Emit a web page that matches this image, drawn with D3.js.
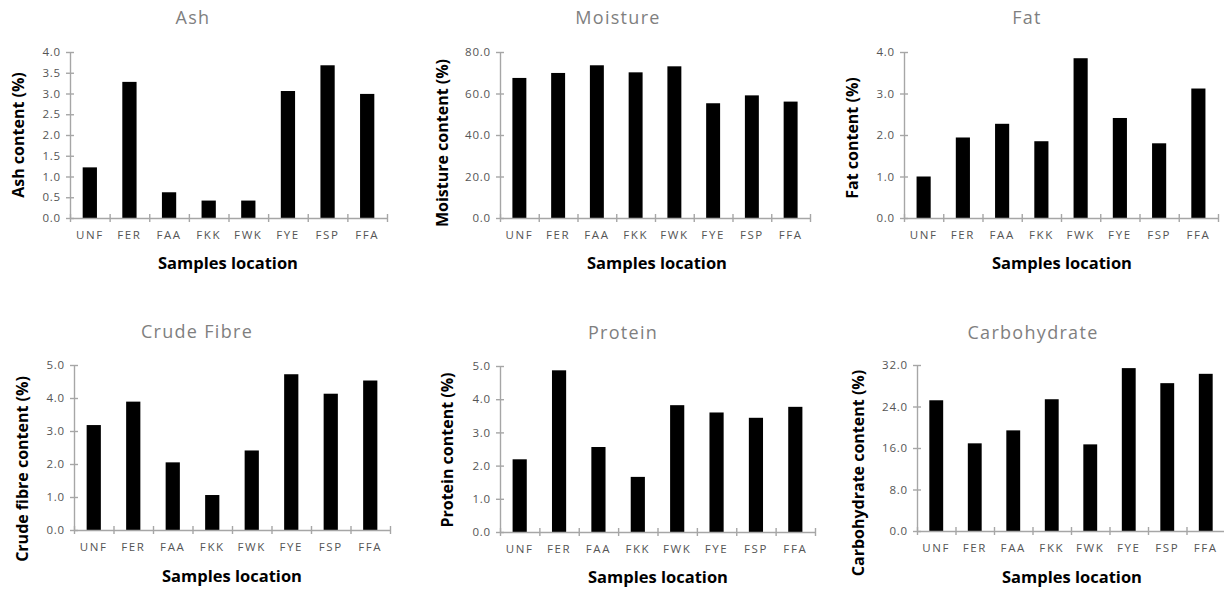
<!DOCTYPE html>
<html>
<head>
<meta charset="utf-8">
<script src="https://cdn.jsdelivr.net/npm/d3@7"></script>
<style>
  body { margin: 0; background: #fff; }
  svg { display: block; }
  text { font-family: "Open Sans", sans-serif; }
</style>
</head>
<body>
<div id="chart"></div>
<script>
const categories = ["UNF", "FER", "FAA", "FKK", "FWK", "FYE", "FSP", "FFA"];

const ashValues = [1.22, 3.28, 0.62, 0.42, 0.42, 3.06, 3.68, 2.99];
const moistureValues = [67.5, 69.9, 73.6, 70.2, 73.1, 55.3, 59.1, 56.1];
const fatValues = [1.0, 1.94, 2.27, 1.85, 3.85, 2.41, 1.80, 3.12];
const fibreValues = [3.18, 3.89, 2.05, 1.06, 2.41, 4.72, 4.13, 4.53];
const proteinValues = [2.19, 4.87, 2.56, 1.66, 3.82, 3.60, 3.44, 3.77];
const carbValues = [25.2, 16.9, 19.4, 25.4, 16.7, 31.4, 28.5, 30.3];

const ashTicks = [0, 0.5, 1, 1.5, 2, 2.5, 3, 3.5, 4];
const moistureTicks = [0, 20, 40, 60, 80];
const fatTicks = [0, 1, 2, 3, 4];
const fibreTicks = [0, 1, 2, 3, 4, 5];
const proteinTicks = [0, 1, 2, 3, 4, 5];
const carbTicks = [0, 8, 16, 24, 32];

const width = 1224;
const height = 589;

const svg = d3.select("#chart")
  .append("svg")
  .attr("width", width)
  .attr("height", height);

// layout of each small chart (pixels)
const panels = [
  { title: "Ash", yLabel: "Ash content (%)", values: ashValues, ticks: ashTicks,
    x0: 70, x1: 387, top: 52, bottom: 218, titleX: 193, titleY: 18, xlabX: 228, xlabY: 263, ylabX: 18, ylabY: 135 },
  { title: "Moisture", yLabel: "Moisture content (%)", values: moistureValues, ticks: moistureTicks,
    x0: 500, x1: 810, top: 52, bottom: 218, titleX: 618, titleY: 18, xlabX: 657, xlabY: 263, ylabX: 442, ylabY: 143 },
  { title: "Fat", yLabel: "Fat content (%)", values: fatValues, ticks: fatTicks,
    x0: 904, x1: 1218, top: 52, bottom: 218, titleX: 1027, titleY: 18, xlabX: 1062, xlabY: 263, ylabX: 852, ylabY: 138 },
  { title: "Crude Fibre", yLabel: "Crude fibre content (%)", values: fibreValues, ticks: fibreTicks,
    x0: 74, x1: 390, top: 365, bottom: 530, titleX: 197, titleY: 332, xlabX: 232, xlabY: 576, ylabX: 22, ylabY: 469 },
  { title: "Protein", yLabel: "Protein content (%)", values: proteinValues, ticks: proteinTicks,
    x0: 500, x1: 815, top: 366, bottom: 532, titleX: 623, titleY: 333, xlabX: 658, xlabY: 577, ylabX: 447, ylabY: 450 },
  { title: "Carbohydrate", yLabel: "Carbohydrate content (%)", values: carbValues, ticks: carbTicks,
    x0: 917, x1: 1225, top: 365, bottom: 531, titleX: 1033, titleY: 333, xlabX: 1072, xlabY: 577, ylabX: 858, ylabY: 473 }
];

const axisColor = "#a6a6a6";
const tickTextColor = "#555";

panels.forEach(p => {
  const g = svg.append("g");

  const xScale = d3.scaleBand()
    .domain(categories)
    .range([p.x0, p.x1])
    .paddingInner(0.64)
    .paddingOuter(0.32);

  // category boundaries, used for the x tick marks
  const edgeScale = d3.scaleLinear()
    .domain([0, categories.length])
    .range([p.x0, p.x1]);

  const yScale = d3.scaleLinear()
    .domain([0, d3.max(p.ticks)])
    .range([p.bottom, p.top]);

  // bars
  g.selectAll(".bar")
    .data(p.values)
    .enter()
    .append("rect")
    .attr("class", "bar")
    .attr("x", (d, i) => xScale(categories[i]))
    .attr("y", d => yScale(d))
    .attr("width", xScale.bandwidth())
    .attr("height", d => yScale(0) - yScale(d))
    .attr("fill", "#000");

  // y axis
  const yAxis = d3.axisLeft(yScale)
    .tickValues(p.ticks)
    .tickFormat(d3.format(".1f"))
    .tickSizeInner(4)
    .tickSizeOuter(0)
    .tickPadding(5);

  const yg = g.append("g")
    .attr("transform", `translate(${p.x0},0)`)
    .call(yAxis);
  yg.select(".domain").attr("stroke", axisColor).attr("stroke-width", 1.4);
  yg.selectAll(".tick line").attr("stroke", axisColor).attr("x2", -4).attr("x1", 4).attr("stroke-width", 1.4);
  yg.selectAll(".tick text")
    .attr("fill", tickTextColor)
    .style("font-size", "11.5px")
    .style("letter-spacing", "0.8px");

  // x axis tick marks at category edges
  const xEdges = d3.axisBottom(edgeScale)
    .tickValues(d3.range(categories.length + 1))
    .tickFormat("")
    .tickSizeOuter(0);

  const xg = g.append("g")
    .attr("transform", `translate(0,${p.bottom})`)
    .call(xEdges);
  xg.select(".domain").attr("stroke", axisColor).attr("stroke-width", 1.4);
  xg.selectAll(".tick line").attr("stroke", axisColor).attr("y1", -4).attr("y2", 4).attr("stroke-width", 1.4);

  // x category labels
  const xLabels = d3.axisBottom(xScale)
    .tickSize(0)
    .tickPadding(13);

  const xl = g.append("g")
    .attr("transform", `translate(0,${p.bottom})`)
    .call(xLabels);
  xl.select(".domain").remove();
  xl.selectAll(".tick text")
    .attr("fill", tickTextColor)
    .style("font-size", "11.5px")
    .style("letter-spacing", "1.6px");

  // title
  g.append("text")
    .attr("x", p.titleX)
    .attr("y", p.titleY)
    .attr("dy", "0.35em")
    .attr("text-anchor", "middle")
    .attr("fill", "#7f7f7f")
    .style("font-size", "18px")
    .style("letter-spacing", "1.3px")
    .text(p.title);

  // x axis title
  g.append("text")
    .attr("x", p.xlabX)
    .attr("y", p.xlabY)
    .attr("dy", "0.35em")
    .attr("text-anchor", "middle")
    .attr("fill", "#000")
    .style("font-size", "16.5px")
    .style("font-weight", "bold")
    .text("Samples location");

  // y axis title
  g.append("text")
    .attr("transform", `translate(${p.ylabX},${p.ylabY}) rotate(-90)`)
    .attr("dy", "0.35em")
    .attr("text-anchor", "middle")
    .attr("fill", "#000")
    .style("font-size", "16px")
    .style("font-weight", "bold")
    .text(p.yLabel);
});
</script>
</body>
</html>
